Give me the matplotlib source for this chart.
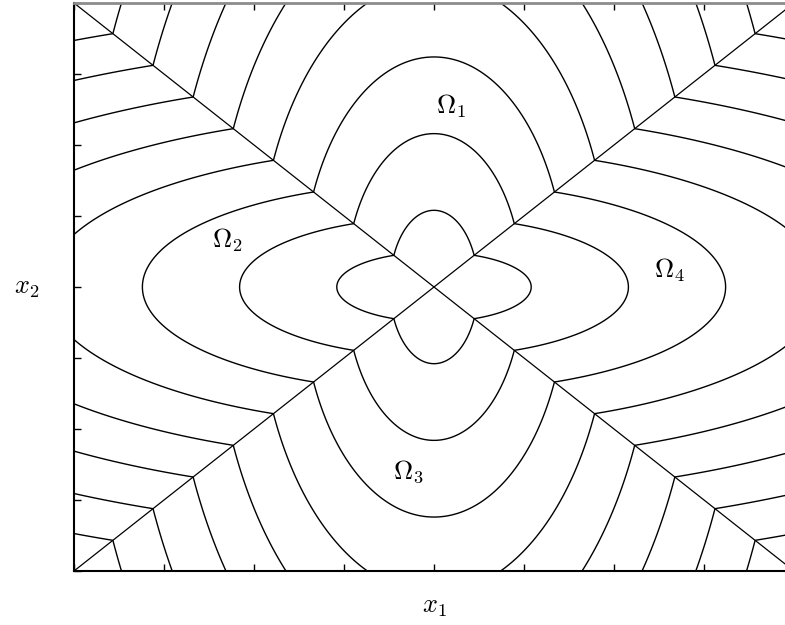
#!/usr/bin/env python3
"""Level sets of a piecewise quadratic function on four conic regions
Omega_1..Omega_4 split by the lines x2 = +x1 and x2 = -x1."""
import numpy as np
import matplotlib
matplotlib.use("Agg")
import matplotlib.pyplot as plt

plt.rcParams["mathtext.fontset"] = "cm"

x_lim = [-4, 4]
y_lim = [-4, 4]
ticks = [-4, -3, -2, -1, 0, 1, 2, 3, 4]
axis_step = 1.08      # where level k crosses a coordinate axis: k * axis_step
diag_step = 0.446     # where level k meets a diagonal: |x1| = |x2| = k * diag_step
level_k = [1, 2, 3, 4, 5, 6, 7, 8]
region_names = [r"$\Omega_1$", r"$\Omega_2$", r"$\Omega_3$", r"$\Omega_4$"]
region_x = [0.19, -2.30, -0.28, 2.62]
region_y = [2.55, 0.66, -2.60, 0.23]

# quadratic forms: long axis along the region's centre line
a_long = 1.0 / axis_step**2
a_short = 1.0 / diag_step**2 - a_long

g = np.linspace(-4, 4, 1201)
X1, X2 = np.meshgrid(g, g)
V_vert = a_short * X1**2 + a_long * X2**2    # Omega_1, Omega_3
V_horz = a_long * X1**2 + a_short * X2**2    # Omega_2, Omega_4
V = np.where(np.abs(X2) >= np.abs(X1), V_vert, V_horz)

fig = plt.figure(figsize=(7.85, 6.25), dpi=100)
ax = fig.add_axes([74 / 785, 54 / 625, 720 / 785, 568 / 625])

ax.contour(X1, X2, V, levels=[k**2 for k in level_k], colors="k", linewidths=1.0)
ax.plot(x_lim, y_lim, color="k", lw=0.9)
ax.plot(x_lim, y_lim[::-1], color="k", lw=0.9)

for name, tx, ty in zip(region_names, region_x, region_y):
    ax.text(tx, ty, name, fontsize=19, ha="center", va="center")

ax.set_xlim(x_lim); ax.set_ylim(y_lim)
ax.set_xticks(ticks); ax.set_yticks(ticks)
ax.set_xticklabels([]); ax.set_yticklabels([])
ax.tick_params(direction="in", length=5, width=1, top=True, right=True)
for side in ("left", "bottom"):
    ax.spines[side].set_linewidth(1.5)
ax.spines["top"].set_color("#8c8c8c")
ax.spines["top"].set_linewidth(2.0)

fig.text(434 / 785, 1 - 606 / 625, r"$x_1$", fontsize=19, ha="center", va="center")
fig.text(27 / 785, 1 - 287 / 625, r"$x_2$", fontsize=19, ha="center", va="center")

fig.savefig("out.png", dpi=100)
